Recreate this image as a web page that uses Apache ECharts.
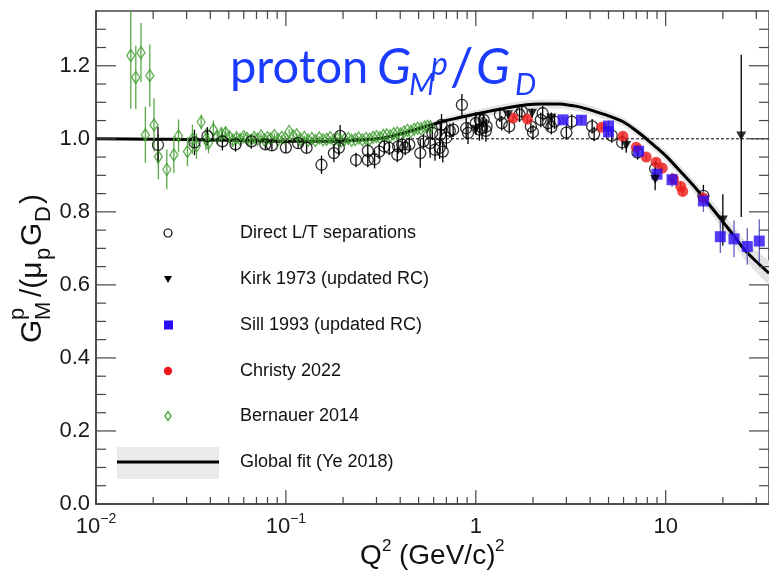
<!DOCTYPE html>
<html><head><meta charset="utf-8">
<script src="https://cdn.jsdelivr.net/npm/echarts@6/dist/echarts.min.js"></script>
<style>html,body{margin:0;padding:0;background:#fff}#c{width:769px;height:571px}</style>
</head><body><div id="c"></div>
<script>
// ---- data: [Q2, value, error] ----
const directLT = [
[0.0212,0.983,0.05],[0.033,0.990,0.035],[0.0386,1.007,0.025],[0.0463,0.993,0.025],[0.0543,0.985,0.02],
[0.0658,0.993,0.02],[0.078,0.985,0.015],[0.0844,0.982,0.015],[0.100,0.976,0.015],[0.116,0.988,0.015],
[0.1285,0.975,0.015],[0.154,0.929,0.025],[0.179,0.961,0.025],[0.193,1.008,0.03],[0.190,0.975,0.02],
[0.234,0.942,0.02],[0.27,0.967,0.02],[0.27,0.942,0.02],[0.293,0.944,0.025],[0.31,0.965,0.02],
[0.33,0.979,0.02],[0.35,0.975,0.02],[0.386,0.956,0.02],[0.39,0.979,0.02],[0.41,0.984,0.02],
[0.425,0.975,0.02],[0.4465,0.984,0.02],[0.51,0.961,0.04],[0.53,0.993,0.02],[0.575,0.988,0.04],
[0.59,1.016,0.02],[0.61,0.970,0.03],[0.645,0.975,0.03],[0.65,1.011,0.03],[0.66,1.038,0.03],
[0.67,0.965,0.03],[0.70,1.003,0.03],[0.73,1.022,0.02],[0.76,1.025,0.02],[0.845,1.093,0.03],
[0.89,1.029,0.03],[0.91,1.016,0.03],[1.0,1.043,0.03],[1.045,1.025,0.03],[1.05,1.052,0.02],
[1.08,1.030,0.03],[1.10,1.052,0.02],[1.13,1.022,0.03],[1.14,1.034,0.02],[1.34,1.066,0.02],
[1.37,1.043,0.02],[1.5,1.034,0.02],[1.7,1.066,0.02],[1.75,1.075,0.02],[1.95,1.034,0.02],
[2.0,1.018,0.02],[2.2,1.052,0.02],[2.25,1.07,0.02],[2.4,1.043,0.02],[2.5,1.032,0.02],
[2.6,1.047,0.02],[3.0,1.017,0.02],[3.2,1.047,0.02],[4.1,1.034,0.02],[4.2,1.013,0.02],
[5.2,1.009,0.02],[5.9,0.99,0.02],[7.1,0.963,0.02],[8.8,0.918,0.02],[15.8,0.844,0.03]
];
const kirk1973 = [
[1.0,1.026,0.015],[1.48,1.066,0.012],[1.98,1.07,0.012],[2.5,1.057,0.015],[6.2,0.982,0.02],
[8.8,0.889,0.03],[20.0,0.778,0.07],[25.0,1.008,0.222]
];
const sill1993 = [
[2.88,1.052,0.01],[3.6,1.051,0.012],[5.0,1.035,0.015],[5.0,1.019,0.015],[7.2,0.966,0.02],
[9.0,0.903,0.02],[10.8,0.888,0.02],[15.8,0.83,0.03],[19.4,0.732,0.045],[22.9,0.726,0.05],
[26.9,0.705,0.05],[31.1,0.72,0.06]
];
const christy2022 = [
[1.57,1.057,0.008],[1.87,1.054,0.008],[4.6,1.032,0.008],[5.95,1.007,0.01],[7.0,0.977,0.01],
[7.9,0.95,0.01],[8.9,0.936,0.01],[9.6,0.92,0.01],[11.0,0.89,0.012],[12.0,0.87,0.012],
[12.3,0.856,0.012],[15.8,0.838,0.015]
];
const bernauer2014 = [
[0.01525,1.228,0.146],[0.0162,1.168,0.087],[0.01725,1.236,0.081],[0.0182,1.011,0.077],[0.0192,1.173,0.085],
[0.0202,1.038,0.073],[0.0213,0.951,0.062],[0.0236,0.916,0.055],[0.0257,0.956,0.05],[0.0272,1.008,0.045],
[0.0303,0.965,0.04],[0.0322,0.999,0.04],[0.0338,0.980,0.035],[0.0358,1.046,0.02],[0.0379,0.999,0.03],
[0.0391,0.988,0.028],[0.0415,1.025,0.025],[0.0435,1.005,0.02],[0.0458,1.013,0.02],[0.0481,1.016,0.018],
[0.0503,1.006,0.015],[0.0525,0.996,0.014],[0.055,1.003,0.012],[0.0575,0.998,0.012],[0.060,1.006,0.01],
[0.0625,1.001,0.01],[0.065,0.994,0.009],[0.068,1.004,0.009],[0.071,0.999,0.008],[0.074,1.008,0.008],
[0.077,0.997,0.007],[0.080,1.003,0.007],[0.083,1.000,0.007],[0.087,1.009,0.006],[0.091,0.998,0.006],
[0.095,1.004,0.006],[0.099,1.001,0.006],[0.104,1.020,0.006],[0.109,1.008,0.005],[0.114,1.011,0.005],
[0.119,0.999,0.005],[0.125,1.004,0.005],[0.131,0.996,0.005],[0.137,1.001,0.005],[0.143,0.995,0.005],
[0.150,1.002,0.005],[0.157,0.997,0.004],[0.164,0.999,0.004],[0.171,1.003,0.004],[0.179,0.996,0.004],
[0.187,1.000,0.004],[0.195,0.994,0.004],[0.204,0.999,0.004],[0.213,1.001,0.004],[0.222,0.996,0.004],
[0.232,0.998,0.004],[0.242,1.002,0.004],[0.253,0.997,0.004],[0.264,1.001,0.004],[0.276,0.999,0.004],
[0.288,1.004,0.004],[0.300,1.006,0.004],[0.313,1.003,0.004],[0.326,1.009,0.004],[0.340,1.011,0.004],
[0.355,1.008,0.004],[0.370,1.014,0.004],[0.386,1.016,0.004],[0.402,1.013,0.004],[0.419,1.019,0.004],
[0.437,1.023,0.004],[0.455,1.020,0.004],[0.474,1.026,0.004],[0.494,1.029,0.004],[0.515,1.027,0.004],
[0.536,1.032,0.004],[0.557,1.034,0.004],[0.577,1.033,0.004]
];
// Global fit (Ye 2018): Q2, central value, band half-width
const fitQ = [0.01,0.02,0.03,0.05,0.07,0.1,0.15,0.2,0.25,0.3,0.35,0.4,0.5,0.6,0.7,0.8,1.0,1.25,1.5,1.85,2.2,2.75,3.2,3.6,4.2,5.0,6.0,7.0,8.0,9.0,10.0,12.0,14.0,16.0,18.0,20.0,23.0,26.0,30.0,35.0];
const fitV = [1.000,0.999,0.998,0.996,0.995,0.993,0.993,0.994,0.997,1.000,1.006,1.013,1.028,1.040,1.050,1.057,1.068,1.078,1.086,1.093,1.095,1.095,1.091,1.086,1.076,1.063,1.046,1.022,0.998,0.975,0.954,0.910,0.872,0.836,0.803,0.773,0.733,0.696,0.664,0.632];
const fitErr = [0.003,0.003,0.003,0.003,0.003,0.003,0.003,0.004,0.004,0.005,0.005,0.006,0.007,0.008,0.009,0.010,0.011,0.012,0.012,0.012,0.012,0.012,0.012,0.012,0.012,0.012,0.012,0.012,0.013,0.013,0.014,0.015,0.016,0.018,0.019,0.021,0.023,0.026,0.030,0.034];
// axis ticks / labels
const xMajorTicks = [0.01,0.1,1,10];
const xMinorTicks = [0.02,0.03,0.04,0.05,0.06,0.07,0.08,0.09,0.2,0.3,0.4,0.5,0.6,0.7,0.8,0.9,2,3,4,5,6,7,8,9,20,30];
const yMajorTicks = [0,0.2,0.4,0.6,0.8,1.0,1.2];
const yMinorTicks = [0.05,0.1,0.15,0.25,0.3,0.35,0.45,0.5,0.55,0.65,0.7,0.75,0.85,0.9,0.95,1.05,1.1,1.15,1.25,1.3];
const legendNames = ['Direct L/T separations','Kirk 1973 (updated RC)','Sill 1993 (updated RC)','Christy 2022','Bernauer 2014','Global fit (Ye 2018)'];

const X_MIN = 0.01, X_MAX = 35, Y_MIN = 0, Y_MAX = 1.35;
const FONT = '"Liberation Sans", Arial, Helvetica, sans-serif';

function errSeries(name, data, color){
  return {type:'custom', name:name, data:data, encode:{x:0,y:1}, z:3, silent:true, clip:true,
    renderItem:function(params, api){
      const cs = params.coordSys;
      const x = api.value(0), v = api.value(1), e = api.value(2);
      const p1 = api.coord([x, v - e]), p2 = api.coord([x, v + e]);
      const yTop = Math.max(cs.y, p2[1]), yBot = Math.min(cs.y + cs.height, p1[1]);
      return {type:'line', shape:{x1:p1[0], y1:yBot, x2:p1[0], y2:yTop}, style:{stroke:color, lineWidth:1.3}};
    }};
}

const tickData = [];
xMajorTicks.forEach(v => tickData.push([v, 0.5, 0]));
xMinorTicks.forEach(v => tickData.push([v, 0.5, 1]));
yMajorTicks.forEach(v => tickData.push([1, v, 2]));
yMinorTicks.forEach(v => tickData.push([1, v, 3]));

const chart = echarts.init(document.getElementById('c'), null, {renderer:'canvas'});
const axisCol = '#444';
const tickStyle = {stroke:axisCol, lineWidth:1.2};

const option = {
  backgroundColor:'#fff',
  animation:false,
  grid:{left:96, top:11, width:679, height:493, show:true, borderColor:axisCol, borderWidth:1.5, backgroundColor:'#fff'},
  xAxis:{type:'log', logBase:10, min:X_MIN, max:X_MAX,
    axisLine:{show:true, lineStyle:{color:axisCol, width:1.5}},
    axisTick:{show:false}, splitLine:{show:false}, minorTick:{show:false},
    axisLabel:{margin:8, color:'#1a1a1a', showMaxLabel:false,
      formatter:function(v){
        const l = Math.log10(v), e = Math.round(l);
        if (Math.abs(l - e) > 1e-6) return '';
        if (e === 0) return '{b|1}';
        if (e === 1) return '{b|10}';
        return '{b|10}{s|\u2212' + (-e) + '}';
      },
      rich:{b:{fontFamily:FONT, fontSize:22, lineHeight:26, color:'#1a1a1a', verticalAlign:'bottom'},
            s:{fontFamily:FONT, fontSize:14, lineHeight:14, color:'#1a1a1a', verticalAlign:'top'}}}
  },
  yAxis:{type:'value', min:Y_MIN, max:Y_MAX, interval:0.2,
    axisLine:{show:true, lineStyle:{color:axisCol, width:1.5}},
    axisTick:{show:false}, splitLine:{show:false},
    axisLabel:{margin:6, color:'#1a1a1a', fontFamily:FONT, fontSize:22, showMaxLabel:false,
      formatter:function(v){ const k = v/0.2; return Math.abs(k - Math.round(k)) < 1e-6 ? v.toFixed(1) : ''; }}
  },
  series:[
    {type:'custom', name:'band', data:fitQ.map((q,i)=>[q, fitV[i], fitErr[i]]), encode:{x:0,y:1}, z:1, silent:true, clip:true,
      renderItem:function(params, api){
        if (params.dataIndex !== 0) return;
        const up = [], lo = [];
        for (let i = 0; i < fitQ.length; i++) {
          up.push(api.coord([fitQ[i], fitV[i] + fitErr[i]]));
          lo.push(api.coord([fitQ[i], fitV[i] - fitErr[i]]));
        }
        return {type:'polygon', shape:{points:up.concat(lo.reverse())}, style:{fill:'#e4e4e4'}};
      }},
    {type:'line', name:'unity', data:[[X_MIN,1],[X_MAX,1]], symbol:'none', z:2, silent:true,
      lineStyle:{color:'#000', width:1, type:[3,2]}},
    {type:'line', name:legendNames[5], data:fitQ.map((q,i)=>[q, fitV[i]]), symbol:'none', smooth:0.3, z:2, silent:true,
      lineStyle:{color:'#000', width:3}},
    errSeries('eb', bernauer2014, '#5aaa48'),
    errSeries('eb', directLT, '#000'),
    errSeries('eb', kirk1973, '#000'),
    errSeries('eb', sill1993, '#6060c0'),
    errSeries('eb', christy2022, '#d03030'),
    {type:'scatter', name:legendNames[4], data:bernauer2014, symbol:'diamond', symbolSize:[8,12], z:4,
      itemStyle:{color:'rgba(255,255,255,0)', borderColor:'#3f9c2f', borderWidth:1.4}},
    {type:'scatter', name:legendNames[0], data:directLT, symbol:'circle', symbolSize:11, z:5,
      itemStyle:{color:'rgba(255,255,255,0)', borderColor:'#000', borderWidth:1.3}},
    {type:'scatter', name:legendNames[3], data:christy2022, symbol:'circle', symbolSize:11, z:6,
      itemStyle:{color:'#ee1a1a'}},
    {type:'scatter', name:legendNames[2], data:sill1993, symbol:'rect', symbolSize:11, z:6,
      itemStyle:{color:'#2a0cf5'}},
    {type:'scatter', name:legendNames[1], data:kirk1973, symbol:'triangle', symbolRotate:180, symbolSize:[10,9], z:7,
      itemStyle:{color:'#000'}},
    {type:'custom', name:'ticks', data:tickData, encode:{x:0,y:1}, z:8, silent:true, clip:false,
      renderItem:function(params, api){
        const cs = params.coordSys;
        const kind = api.value(2);
        if (kind < 2) {
          const px = api.coord([api.value(0), 0.5])[0];
          const Lb = kind === 0 ? 14 : 7, Lt = kind === 0 ? 15 : 8;
          return {type:'group', children:[
            {type:'line', shape:{x1:px, y1:cs.y+cs.height, x2:px, y2:cs.y+cs.height-Lb}, style:tickStyle},
            {type:'line', shape:{x1:px, y1:cs.y, x2:px, y2:cs.y+Lt}, style:tickStyle}]};
        }
        const py = api.coord([1, api.value(1)])[1];
        const L = kind === 2 ? 20 : 10;
        return {type:'group', children:[
          {type:'line', shape:{x1:cs.x, y1:py, x2:cs.x+L, y2:py}, style:tickStyle},
          {type:'line', shape:{x1:cs.x+cs.width, y1:py, x2:cs.x+cs.width-L, y2:py}, style:tickStyle}]};
      }}
  ],
  graphic:[]
};

// legend (drawn manually to match layout)
const lgY = [233, 279, 325, 371, 416, 462];
const lg = [];
lg.push({type:'rect', shape:{x:117, y:447, width:102, height:32}, style:{fill:'#ebebeb'}});
lg.push({type:'line', shape:{x1:117, y1:462, x2:219, y2:462}, style:{stroke:'#000', lineWidth:3}});
lg.push({type:'circle', shape:{cx:168, cy:lgY[0], r:4}, style:{fill:'none', stroke:'#000', lineWidth:1.2}});
lg.push({type:'polygon', shape:{points:[[164,lgY[1]-3],[172,lgY[1]-3],[168,lgY[1]+4]]}, style:{fill:'#000'}});
lg.push({type:'rect', shape:{x:164, y:lgY[2]-4.5, width:9, height:9}, style:{fill:'#2a0cf5'}});
lg.push({type:'circle', shape:{cx:168, cy:lgY[3], r:4.2}, style:{fill:'#ee1a1a'}});
lg.push({type:'polygon', shape:{points:[[168,lgY[4]-4.5],[171,lgY[4]],[168,lgY[4]+4.5],[165,lgY[4]]]}, style:{fill:'none', stroke:'#3f9c2f', lineWidth:1.3}});
legendNames.forEach((n,i) => lg.push({type:'text', x:240, y:lgY[i], style:{text:n, fontFamily:FONT, fontSize:18, fill:'#111', verticalAlign:'middle'}}));

// title
const tc = '#1b3cff', TF = 'Lato, "Open Sans", sans-serif';
const title = [
  {type:'text', x:230, y:68, style:{text:'proton', fontFamily:TF, fontSize:47, fill:tc, verticalAlign:'middle'}},
  {type:'text', x:377, y:68, style:{text:'G', fontFamily:TF, fontSize:50, fontStyle:'italic', fill:tc, verticalAlign:'middle'}},
  {type:'text', x:409, y:85, style:{text:'M', fontFamily:TF, fontSize:30, fontStyle:'italic', fill:tc, verticalAlign:'middle'}},
  {type:'text', x:431, y:65, style:{text:'p', fontFamily:TF, fontSize:32, fontStyle:'italic', fill:tc, verticalAlign:'middle'}},
  {type:'text', x:450, y:68, style:{text:'/', fontFamily:TF, fontSize:52, fill:tc, verticalAlign:'middle'}},
  {type:'text', x:476, y:68, style:{text:'G', fontFamily:TF, fontSize:50, fontStyle:'italic', fill:tc, verticalAlign:'middle'}},
  {type:'text', x:515, y:85, style:{text:'D', fontFamily:TF, fontSize:30, fontStyle:'italic', fill:tc, verticalAlign:'middle'}}
];

// y axis title (rotated)
const yl = {type:'group', x:46, y:343, rotation:Math.PI/2, children:[
  {type:'text', x:0, y:-13, style:{text:'G', fontFamily:FONT, fontSize:30, fill:'#111', verticalAlign:'middle'}},
  {type:'text', x:23, y:-28, style:{text:'p', fontFamily:FONT, fontSize:22, fill:'#111', verticalAlign:'middle'}},
  {type:'text', x:23, y:-2, style:{text:'M', fontFamily:FONT, fontSize:22, fill:'#111', verticalAlign:'middle'}},
  {type:'text', x:46, y:-13, style:{text:'/(\u03bc', fontFamily:FONT, fontSize:30, fill:'#111', verticalAlign:'middle'}},
  {type:'text', x:83, y:-2, style:{text:'p', fontFamily:FONT, fontSize:22, fill:'#111', verticalAlign:'middle'}},
  {type:'text', x:97, y:-13, style:{text:'G', fontFamily:FONT, fontSize:30, fill:'#111', verticalAlign:'middle'}},
  {type:'text', x:121, y:-2, style:{text:'D', fontFamily:FONT, fontSize:22, fill:'#111', verticalAlign:'middle'}},
  {type:'text', x:139, y:-13, style:{text:')', fontFamily:FONT, fontSize:30, fill:'#111', verticalAlign:'middle'}}
]};

// x axis title
const xl = [
  {type:'text', x:360, y:556, style:{text:'Q', fontFamily:FONT, fontSize:28, fill:'#111', verticalAlign:'middle'}},
  {type:'text', x:382, y:546, style:{text:'2', fontFamily:FONT, fontSize:17, fill:'#111', verticalAlign:'middle'}},
  {type:'text', x:399, y:556, style:{text:'(GeV/c)', fontFamily:FONT, fontSize:28, fill:'#111', verticalAlign:'middle'}},
  {type:'text', x:495, y:546, style:{text:'2', fontFamily:FONT, fontSize:17, fill:'#111', verticalAlign:'middle'}}
];

option.graphic = lg.concat(title, [yl], xl);
chart.setOption(option);
</script>
</body></html>
